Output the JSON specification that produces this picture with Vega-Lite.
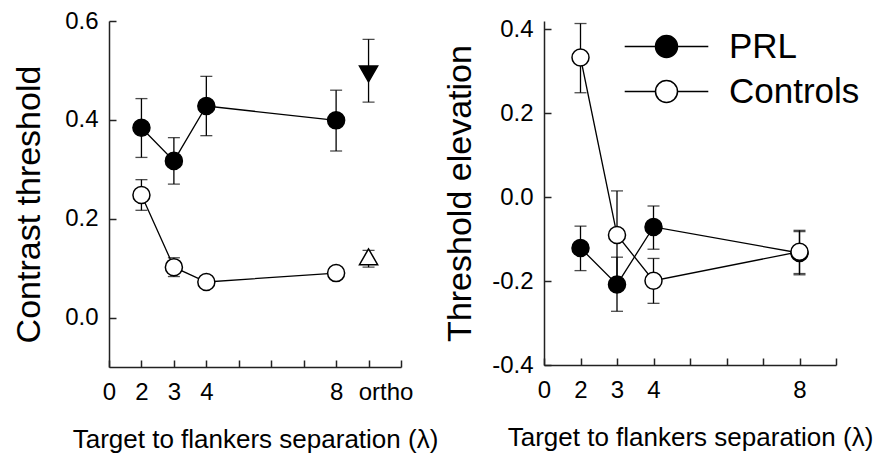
{
  "$schema": "https://vega.github.io/schema/vega-lite/v6.json",
  "background": "white",
  "padding": {"left": 12, "top": 9, "right": 5, "bottom": 5},
  "config": {
    "font": "Liberation Sans",
    "view": {"stroke": null},
    "axis": {
      "grid": false,
      "domainColor": "#222",
      "domainWidth": 1.5,
      "tickColor": "#222",
      "tickWidth": 1.5,
      "tickSize": -7,
      "labelColor": "black",
      "titleColor": "black",
      "labelFont": "Liberation Sans",
      "titleFont": "Liberation Sans",
      "titleFontWeight": "normal",
      "labelFontSize": 24,
      "labelFlush": false,
      "labelOverlap": false
    },
    "legend": {"padding": 0}
  },
  "datasets": {
    "contrast": [
      {"group": "PRL", "sep": 2, "mean": 0.384, "lo": 0.324, "hi": 0.443},
      {"group": "PRL", "sep": 3, "mean": 0.317, "lo": 0.270, "hi": 0.364},
      {"group": "PRL", "sep": 4, "mean": 0.428, "lo": 0.368, "hi": 0.488},
      {"group": "PRL", "sep": 8, "mean": 0.399, "lo": 0.337, "hi": 0.460},
      {"group": "PRL", "sep": 9, "mean": 0.493, "lo": 0.436, "hi": 0.563},
      {"group": "Controls", "sep": 2, "mean": 0.248, "lo": 0.217, "hi": 0.279},
      {"group": "Controls", "sep": 3, "mean": 0.102, "lo": 0.083, "hi": 0.121},
      {"group": "Controls", "sep": 4, "mean": 0.072, "lo": 0.062, "hi": 0.082},
      {"group": "Controls", "sep": 8, "mean": 0.090, "lo": 0.080, "hi": 0.100},
      {"group": "Controls", "sep": 9, "mean": 0.123, "lo": 0.102, "hi": 0.136}
    ],
    "elevation": [
      {"group": "PRL", "sep": 2, "mean": -0.121, "lo": -0.175, "hi": -0.069},
      {"group": "PRL", "sep": 3, "mean": -0.208, "lo": -0.272, "hi": -0.143},
      {"group": "PRL", "sep": 4, "mean": -0.071, "lo": -0.124, "hi": -0.021},
      {"group": "PRL", "sep": 8, "mean": -0.133, "lo": -0.185, "hi": -0.082},
      {"group": "Controls", "sep": 2, "mean": 0.333, "lo": 0.249, "hi": 0.414},
      {"group": "Controls", "sep": 3, "mean": -0.090, "lo": -0.195, "hi": 0.015},
      {"group": "Controls", "sep": 4, "mean": -0.199, "lo": -0.253, "hi": -0.146},
      {"group": "Controls", "sep": 8, "mean": -0.130, "lo": -0.182, "hi": -0.079}
    ]
  },
  "bounds": "flush",
  "spacing": 143,
  "resolve": {"scale": {"fill": "independent", "x": "independent", "y": "independent", "shape": "independent"}, "legend": {"fill": "independent"}},
  "hconcat": [
    {
      "width": 292,
      "height": 346,
      "data": {"name": "contrast"},
      "encoding": {
        "x": {
          "field": "sep", "type": "quantitative",
          "scale": {"domain": [1, 10], "nice": false, "zero": false},
          "axis": {
            "values": [1, 2, 3, 4, 5, 6, 7, 8, 9, 10],
            "labelExpr": "datum.value == 1 ? '0' : datum.value == 9 ? 'ortho' : (datum.value <= 4 || datum.value == 8) ? '' + datum.value : ''",
            "labelOffset": {"condition": {"test": "datum.value == 9", "value": 17}, "value": 0},
            "labelPadding": 20,
            "title": "Target to flankers separation (λ)",
            "titleFontSize": 26,
            "titlePadding": 22
          }
        }
      },
      "layer": [
        {
          "mark": {"type": "errorbar", "ticks": {"size": 12, "color": "black"}, "thickness": 1.3, "color": "black"},
          "encoding": {
            "y": {
              "field": "lo", "type": "quantitative",
              "scale": {"domain": [-0.1, 0.6], "nice": false, "zero": false},
              "axis": {
                "values": [0, 0.2, 0.4, 0.6],
                "format": ".1f",
                "labelPadding": 18,
                "title": "Contrast threshold",
                "titleFontSize": 34,
                "titlePadding": 18,
                "titleY": 183
              }
            },
            "y2": {"field": "hi"}
          }
        },
        {
          "transform": [{"filter": "datum.sep < 9"}],
          "mark": {"type": "line", "color": "black", "strokeWidth": 1.3},
          "encoding": {
            "y": {"field": "mean", "type": "quantitative", "scale": {"domain": [-0.1, 0.6], "nice": false, "zero": false}},
            "detail": {"field": "group", "type": "nominal"}
          }
        },
        {
          "transform": [{"filter": "datum.sep < 9"}],
          "mark": {"type": "point", "shape": "circle", "filled": true, "size": 290, "stroke": "black", "strokeWidth": 1.5, "opacity": 1},
          "encoding": {
            "y": {"field": "mean", "type": "quantitative", "scale": {"domain": [-0.1, 0.6], "nice": false, "zero": false}},
            "fill": {"field": "group", "type": "nominal", "scale": {"domain": ["PRL", "Controls"], "range": ["black", "white"]}, "legend": null}
          }
        },
        {
          "transform": [{"filter": "datum.sep == 9"}],
          "mark": {"type": "point", "filled": true, "size": 330, "stroke": "black", "strokeWidth": 1.5, "opacity": 1},
          "encoding": {
            "y": {"field": "mean", "type": "quantitative", "scale": {"domain": [-0.1, 0.6], "nice": false, "zero": false}},
            "fill": {"field": "group", "type": "nominal", "scale": {"domain": ["PRL", "Controls"], "range": ["black", "white"]}, "legend": null},
            "shape": {"field": "group", "type": "nominal", "scale": {"domain": ["PRL", "Controls"], "range": ["triangle-down", "triangle-up"]}, "legend": null}
          }
        }
      ]
    },
    {
      "width": 292,
      "height": 344,
      "data": {"name": "elevation"},
      "encoding": {
        "x": {
          "field": "sep", "type": "quantitative",
          "scale": {"domain": [1, 9], "nice": false, "zero": false},
          "axis": {
            "values": [1, 2, 3, 4, 5, 6, 7, 8, 9],
            "labelExpr": "datum.value == 1 ? '0' : (datum.value <= 4 || datum.value == 8) ? '' + datum.value : ''",
            "labelPadding": 20,
            "title": "Target to flankers separation (λ)",
            "titleFontSize": 26,
            "titlePadding": 22
          }
        }
      },
      "layer": [
        {
          "mark": {"type": "errorbar", "ticks": {"size": 12, "color": "black"}, "thickness": 1.3, "color": "black"},
          "encoding": {
            "y": {
              "field": "lo", "type": "quantitative",
              "scale": {"domain": [-0.4, 0.42], "nice": false, "zero": false},
              "axis": {
                "values": [-0.4, -0.2, 0, 0.2, 0.4],
                "labelExpr": "replace(format(datum.value, '.1f'), '−', '-')",
                "labelPadding": 18,
                "title": "Threshold elevation",
                "titleFontSize": 34,
                "titlePadding": 14
              }
            },
            "y2": {"field": "hi"}
          }
        },
        {
          "mark": {"type": "line", "color": "black", "strokeWidth": 1.3},
          "encoding": {
            "y": {"field": "mean", "type": "quantitative", "scale": {"domain": [-0.4, 0.42], "nice": false, "zero": false}},
            "detail": {"field": "group", "type": "nominal"}
          }
        },
        {
          "mark": {"type": "point", "shape": "circle", "filled": true, "size": 290, "stroke": "black", "strokeWidth": 1.5, "opacity": 1},
          "encoding": {
            "y": {"field": "mean", "type": "quantitative", "scale": {"domain": [-0.4, 0.42], "nice": false, "zero": false}},
            "fill": {
              "field": "group", "type": "nominal",
              "scale": {"domain": ["PRL", "Controls"], "range": ["black", "white"]},
              "legend": {
                "title": null,
                "orient": "none",
                "legendX": 105,
                "legendY": 8,
                "symbolType": "M-3.8,0L-1,0M1,0L3.8,0M-1,0A1,1,0,1,0,1,0A1,1,0,1,0,-1,0Z",
                "symbolSize": 484,
                "symbolStrokeColor": "black",
                "symbolStrokeWidth": 1.5,
                "symbolOpacity": 1,
                "labelFont": "Liberation Sans",
                "labelFontSize": 35,
                "labelColor": "black",
                "labelOffset": 45,
                "rowPadding": 9,
                "labelLimit": 300
              }
            }
          }
        }
      ]
    }
  ]
}
